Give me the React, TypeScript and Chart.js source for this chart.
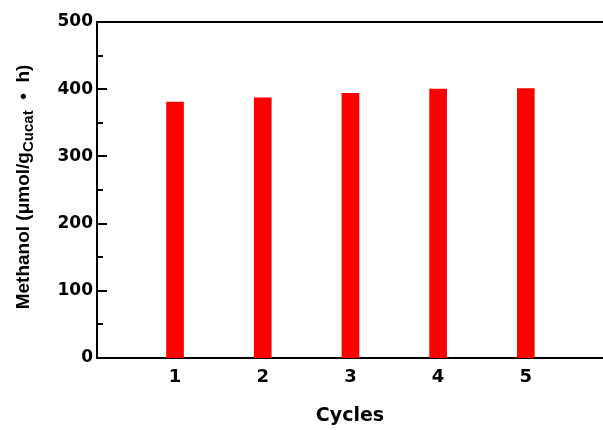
import React, { useEffect, useRef } from "react";
import { Chart, registerables } from "chart.js";

Chart.register(...registerables);

const cycles = [1, 2, 3, 4, 5];
const methanol = [381, 387, 394, 400, 401];
const xTickLabels = ["1", "2", "3", "4", "5"];
const yMajorTicks = [0, 100, 200, 300, 400, 500];
const yMinorTicks = [50, 150, 250, 350, 450];
const xTitle = "Cycles";
const yTitleMain = "Methanol (μmol/g";
const yTitleSub = "Cucat";
const yTitleEnd = "  •  h)";

const FONT = "'Liberation Sans', Arial, Helvetica, sans-serif";
const WIDE = "'DejaVu Sans', 'Liberation Sans', Arial, sans-serif";

const innerTicksPlugin = {
  id: "innerTicks",
  afterDraw(chart: any) {
    const ctx = chart.ctx;
    const y = chart.scales.y;
    const left = chart.chartArea.left;
    ctx.save();
    ctx.strokeStyle = "#000";
    ctx.lineWidth = 2;
    ctx.beginPath();
    yMajorTicks.forEach((v) => {
      const p = Math.round(y.getPixelForValue(v));
      ctx.moveTo(left, p);
      ctx.lineTo(left + 10, p);
    });
    yMinorTicks.forEach((v) => {
      const p = Math.round(y.getPixelForValue(v));
      ctx.moveTo(left, p);
      ctx.lineTo(left + 6, p);
    });
    ctx.stroke();
    ctx.restore();
  },
};

const yTitlePlugin = {
  id: "yTitleSub",
  afterDraw(chart: any) {
    const ctx = chart.ctx;
    ctx.save();
    const mainFont = `bold 19px ${FONT}`;
    const subFont = `bold 15px ${FONT}`;
    ctx.font = mainFont;
    const w1 = ctx.measureText(yTitleMain).width;
    const w3 = ctx.measureText(yTitleEnd).width;
    ctx.font = subFont;
    const w2 = ctx.measureText(yTitleSub).width;
    const total = w1 + w2 + w3;
    const cy = 187;
    ctx.translate(29, cy);
    ctx.rotate(-Math.PI / 2);
    ctx.fillStyle = "#000";
    ctx.textBaseline = "alphabetic";
    ctx.textAlign = "left";
    let x = -total / 2;
    ctx.font = mainFont;
    ctx.fillText(yTitleMain, x, 0);
    x += w1;
    ctx.font = subFont;
    ctx.fillText(yTitleSub, x, 4);
    x += w2;
    ctx.font = mainFont;
    ctx.fillText(yTitleEnd, x, 0);
    ctx.restore();
  },
};

export default function App() {
  const ref = useRef<HTMLCanvasElement | null>(null);
  useEffect(() => {
    if (!ref.current) return;
    const chart = new Chart(ref.current, {
      type: "bar",
      data: {
        datasets: [
          {
            label: "Methanol",
            data: cycles.map((c, i) => ({ x: c, y: methanol[i] })),
            backgroundColor: "#ff0000",
            borderWidth: 0,
            barThickness: 17,
          },
        ],
      },
      options: {
        animation: false,
        responsive: false,
        layout: { padding: 0 },
        plugins: {
          legend: { display: false },
          tooltip: { enabled: false },
        },
        scales: {
          x: {
            type: "linear",
            position: "bottom",
            offset: false,
            min: 0.11,
            max: 5.88,
            afterBuildTicks: (s: any) => {
              s.ticks = cycles.map((v) => ({ value: v }));
            },
            afterFit: (s: any) => {
              s.height = 72;
            },
            grid: { display: false, drawTicks: false },
            border: { display: true, color: "#000", width: 2 },
            ticks: {
              color: "#000",
              padding: 9,
              font: { family: WIDE, size: 18, weight: "bold" },
              callback: (v: any) => {
                const i = cycles.indexOf(Number(v));
                return i >= 0 ? xTickLabels[i] : "";
              },
            },
            title: {
              display: true,
              text: xTitle,
              color: "#000",
              font: { family: WIDE, size: 19, weight: "bold" },
              padding: { top: 0, bottom: 3 },
            },
          },
          x2: {
            type: "linear",
            position: "top",
            offset: false,
            min: 0.11,
            max: 5.88,
            afterFit: (s: any) => {
              s.height = 22;
            },
            grid: { display: false, drawTicks: false },
            border: { display: true, color: "#000", width: 2 },
            ticks: { display: false },
          },
          y: {
            type: "linear",
            min: 0,
            max: 500,
            afterBuildTicks: (s: any) => {
              s.ticks = yMajorTicks.map((v) => ({ value: v }));
            },
            afterFit: (s: any) => {
              s.width = 97;
            },
            grid: { display: false, drawTicks: false },
            border: { display: true, color: "#000", width: 2 },
            ticks: {
              color: "#000",
              padding: 4,
              font: { family: WIDE, size: 17, weight: "bold" },
            },
          },
        },
      },
      plugins: [innerTicksPlugin, yTitlePlugin],
    } as any);
    return () => chart.destroy();
  }, []);
  return (
    <div style={{ position: "absolute", left: 0, top: 0, width: 603, height: 430, background: "#fff" }}>
      <canvas ref={ref} width={603} height={430} />
    </div>
  );
}
